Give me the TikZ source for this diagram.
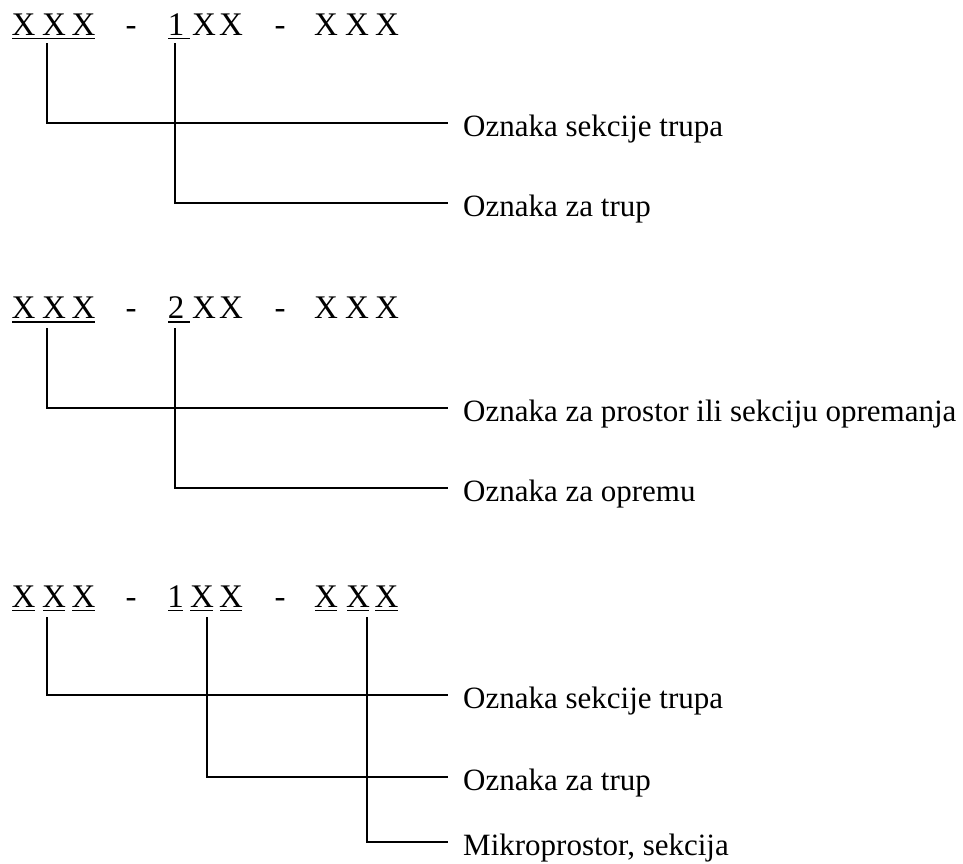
\documentclass[tikz,border=0pt]{standalone}
\usepackage{fontspec}
\setmainfont{Liberation Serif}
\begin{document}
\begin{tikzpicture}[x=1pt,y=-1pt,
  ch/.style={inner sep=0pt,anchor=base,font=\fontsize{33}{39}\selectfont},
  lab/.style={inner xsep=15pt,inner ysep=0pt,anchor=west,text height=30pt,text depth=4pt,font=\fontsize{31}{37}\selectfont},
  ln/.style={line width=1.2pt},
  ul/.style={line width=1.1pt}]
\useasboundingbox (0,0) rectangle (963,863);
% ---------- Row 1 ----------
\node[ch] (a1) at (23.5,35) {X};
\node[ch] (a2) at (54,35) {X};
\node[ch] (a3) at (83.5,35) {X};
\node[ch] (a4) at (131,35) {-};
\node[ch] (a5) at (176,35) {1};
\node[ch] (a6) at (204,35) {X};
\node[ch] (a7) at (231,35) {X};
\node[ch] (a8) at (280,35) {-};
\node[ch] (a9) at (326,35) {X};
\node[ch] (a10) at (357,35) {X};
\node[ch] (a11) at (387,35) {X};
\draw[ul] (12,38.5) -- (95,38.5);
\draw[ul] (168,38.5) -- (190,38.5);
\coordinate (t1) at (47,43);
\coordinate (t2) at (175,43);
\node[lab] (L1) at (448,123) {Oznaka sekcije trupa};
\node[lab] (L2) at (448,203) {Oznaka za trup};
\draw[ln] (t1) |- (L1.west);
\draw[ln] (t2) |- (L2.west);
% ---------- Row 2 ----------
\node[ch] (b1) at (23.5,318) {X};
\node[ch] (b2) at (54,318) {X};
\node[ch] (b3) at (83.5,318) {X};
\node[ch] (b4) at (131,318) {-};
\node[ch] (b5) at (176,318) {2};
\node[ch] (b6) at (204,318) {X};
\node[ch] (b7) at (231,318) {X};
\node[ch] (b8) at (280,318) {-};
\node[ch] (b9) at (326,318) {X};
\node[ch] (b10) at (357,318) {X};
\node[ch] (b11) at (387,318) {X};
\draw[ul] (12,322) -- (95,322);
\draw[ul] (168,322) -- (190,322);
\coordinate (t3) at (47,328);
\coordinate (t4) at (175,328);
\node[lab] (L3) at (448,408) {Oznaka za prostor ili sekciju opremanja};
\node[lab] (L4) at (448,488) {Oznaka za opremu};
\draw[ln] (t3) |- (L3.west);
\draw[ln] (t4) |- (L4.west);
% ---------- Row 3 ----------
\node[ch] (c1) at (23.5,607) {X};
\node[ch] (c2) at (54,607) {X};
\node[ch] (c3) at (83.5,607) {X};
\node[ch] (c4) at (131,607) {-};
\node[ch] (c5) at (175.5,607) {1};
\node[ch] (c6) at (202,607) {X};
\node[ch] (c7) at (231,607) {X};
\node[ch] (c8) at (280,607) {-};
\node[ch] (c9) at (326,607) {X};
\node[ch] (c10) at (358,607) {X};
\node[ch] (c11) at (386.5,607) {X};
\foreach \xa/\xb in {12/35,43/65,72/95,168/183,190/213,220/242,315/337,347/369,375/398}
  \draw[ul] (\xa,610.5) -- (\xb,610.5);
\coordinate (t5) at (47,617);
\coordinate (t6) at (207,617);
\coordinate (t7) at (367,617);
\node[lab] (L5) at (448,695) {Oznaka sekcije trupa};
\node[lab] (L6) at (448,777) {Oznaka za trup};
\node[lab] (L7) at (448,842) {Mikroprostor, sekcija};
\draw[ln] (t5) |- (L5.west);
\draw[ln] (t6) |- (L6.west);
\draw[ln] (t7) |- (L7.west);
\end{tikzpicture}
\end{document}
